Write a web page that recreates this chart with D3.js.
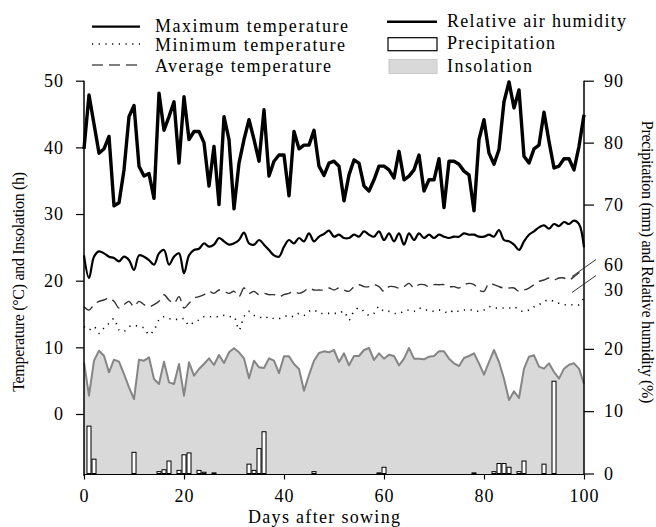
<!DOCTYPE html>
<html lang="en">
<head>
  <meta charset="UTF-8">
  <title>Weather during the crop cycle</title>
  <style>
    body { margin: 0; background: #fff; }
    svg { font-family: "Liberation Serif", "Times New Roman", serif; }
  </style>
  <script src="https://d3js.org/d3.v7.min.js"></script>
</head>
<body>
  <svg width="656" height="527"></svg>

  <script>
    // days after sowing 0..100
    var days = d3.range(0, 101);

    // relative air humidity (%)
    var humidity = [
      79, 87.7, 83, 78.3, 79, 81, 69.8, 70.3, 75.6, 84.2,
      86, 76.2, 74.6, 75, 71, 88, 82, 84.2, 86.6, 76.7,
      87.4, 80.5, 81.8, 81.8, 80, 73, 79.4, 70, 84.2, 80.5,
      69.3, 76.7, 80.5, 83.7, 80.5, 77, 85.3, 74.6, 77, 78,
      78, 71.4, 81.8, 79, 79.6, 79.6, 82, 76.2, 74.7, 76.7,
      77, 76.2, 70.6, 74.8, 77.2, 76.7, 73, 72.2, 74, 76.2,
      76.2, 75.6, 74.3, 78.6, 74, 74.6, 75.6, 78, 72.2, 74,
      74, 77.4, 69.5, 77, 77, 76.5, 75.4, 74.8, 69, 80.5,
      83.7, 78.3, 76.5, 78.9, 86.6, 89.8, 85.6, 88.5, 77.8, 76.7,
      79, 79.6, 84.9, 80.2, 75.9, 76.2, 77.4, 77.4, 75.6, 79.4, 84.5
    ];

    // maximum temperature (C)
    var tMax = [
      23.8, 20.4, 23.6, 24.4, 24.1, 23.6, 23.4, 22.9, 23.6, 23.1,
      21.6, 23.8, 23.6, 23.1, 22.4, 24.1, 24.6, 22.4, 23.6, 24.1,
      21.1, 23.8, 24.6, 24.8, 25.6, 25.1, 25.4, 26.4, 25.9, 25.4,
      25.6, 26.1, 27.2, 25.6, 25.4, 26.1, 25.4, 24.6, 23.8, 23.6,
      25.1, 26.1, 25.6, 26.4, 25.9, 27.1, 25.9, 26.6, 27, 27.5,
      26.6, 26.9, 26.4, 26.4, 26.9, 26.6, 27.4, 26.9, 26.6, 27.4,
      26.1, 27.1, 25.9, 27.1, 25.4, 27.1, 26.1, 27.1, 26.4, 26.9,
      26.4, 26.9, 26.6, 26.4, 26.6, 26.6, 27.1, 26.9, 26.9, 26.6,
      26.6, 26.9, 26.6, 27.6, 26.1, 25.9, 25.4, 24.6, 25.9, 26.9,
      27.4, 28, 28.3, 27.8, 28.5, 28.2, 28.8, 28.5, 29, 28.5, 25
    ];

    // minimum temperature (C)
    var tMin = [
      13.1, 12.6, 13.1, 12.1, 12.9, 13.6, 14.3, 12.6, 12.4, 13.1,
      13.3, 13.1, 12.9, 11.9, 12.6, 14.1, 14.6, 14.3, 14.3, 14.1,
      14.3, 13.3, 13.8, 14.1, 14.6, 14.6, 14.6, 14.6, 14.8, 14.6,
      14.6, 12.6, 14.6, 15.4, 14.8, 14.6, 14.3, 14.6, 14.3, 14.3,
      14.6, 14.8, 14.6, 15.1, 14.8, 15.4, 15.6, 15.1, 15.1, 15.1,
      15.1, 15.1, 15.4, 14.1, 15.4, 15.9, 15.4, 14.8, 15.1, 16.1,
      15.4, 15.4, 15.1, 15.1, 15.4, 15.6, 15.4, 15.9, 15.6, 15.6,
      15.4, 15.6, 15.4, 15.1, 15.6, 15.4, 15.6, 15.6, 15.6, 15.4,
      15.6, 16.1, 15.9, 15.9, 15.9, 15.9, 16.1, 15.6, 15.4, 15.6,
      16.1, 16.4, 16.9, 17.1, 16.9, 16.6, 16.4, 16.4, 16.4, 16.4, 17.5
    ];

    // average temperature (C)
    var tAvg = [
      16.1, 15.6, 16.4, 16.9, 17.1, 17.4, 16.9, 15.9, 16.4, 16.9,
      16.1, 16.9, 16.4, 16.1, 16.4, 16.9, 17.9, 17.1, 16.6, 17.6,
      15.9, 16.6, 17.4, 17.6, 17.9, 18.4, 18.1, 18.6, 18.4, 18.1,
      18.4, 17.6, 18.9, 18.1, 18.4, 17.9, 18.1, 17.9, 17.9, 17.6,
      17.9, 18.1, 18.4, 18.1, 18.4, 18.9, 18.6, 18.6, 18.6, 18.9,
      18.6, 18.9, 18.6, 18.4, 19.1, 19.4, 19.1, 19.1, 19.4, 19.1,
      18.4, 19.1, 19.1, 18.9, 19.1, 19.6, 18.9, 19.4, 19.4, 19.1,
      19.4, 19.4, 19.4, 19.1, 19.1, 18.9, 19.4, 19.6, 19.4, 18.6,
      18.4, 19.6, 19.4, 19.1, 18.9, 18.9, 18.9, 18.4, 18.6, 18.9,
      19.4, 19.9, 20.1, 20.4, 20.1, 20.4, 20.4, 20.1, 20.6, 21.2, 21.8
    ];

    // insolation (h)
    var insolation = [
      7.75, 2.75, 8, 9.5, 8.75, 6.25, 8.15, 7.85, 6, 4,
      2.25, 8.15, 8, 8.5, 5.25, 4.5, 7.85, 4.75, 4.5, 7.5,
      2.75, 7.75, 5.75, 6.75, 7.5, 8.35, 7.35, 8.85, 7.65, 9.25,
      9.85, 9.25, 8.35, 5.35, 8, 7, 6.9, 8.35, 8, 6.15,
      8.65, 8.65, 7.5, 6.75, 3.5, 5.85, 8, 9.15, 9.4, 9.25,
      9.6, 7.8, 9.1, 7.3, 8.7, 8.7, 9.6, 9.9, 8.1, 9.1,
      8.3, 8.9, 8.7, 7.3, 8.3, 9.9, 8.3, 8.3, 8.2, 8.6,
      8.7, 9.4, 9.4, 8.3, 7.6, 7.2, 8.4, 8.7, 9.1, 7.6,
      5.9, 7.8, 9.6, 7.8, 5.3, 2.1, 3.4, 2.4, 6.8, 8.6,
      8.8, 7.1, 6.8, 7.6, 6.3, 5.3, 6.8, 7.4, 7.6, 6.8, 4.5
    ];

    // precipitation (mm), only days with rain
    var rainDays = [1, 2, 10, 15, 16, 17, 19, 20, 21, 23, 24, 26, 33, 34, 35, 36, 46, 59, 60, 78, 82, 83, 84, 85, 87, 88, 92, 94];
    var rainMm   = [7.6, 2.3, 3.4, 0.3, 0.6, 2.0, 0.5, 3.0, 3.3, 0.5, 0.2, 0.1, 1.5, 0.5, 4.0, 6.7, 0.3, 0.1, 1.0, 0.1, 0.3, 1.6, 1.6, 1.0, 0.3, 2.0, 1.5, 14.8];

    var xTicks = [0, 20, 40, 60, 80, 100];
    var leftTicks = [0, 10, 20, 30, 40, 50];
    var humTicks = [60, 70, 80, 90];
    var rainTicks = [0, 10, 20, 30];

    var svg = d3.select("svg");
    var plotL = 84, plotR = 584, plotT = 80.7, plotB = 474.5;

    var x = d3.scaleLinear().domain([0, 100]).range([plotL, plotR]);
    var yT = d3.scaleLinear().domain([0, 50]).range([414, plotT]);      // temperature / insolation
    var yH = d3.scaleLinear().domain([60, 90]).range([266.5, plotT]);   // humidity
    var yP = d3.scaleLinear().domain([0, 30]).range([473.5, 286.5]);    // precipitation

    // insolation area
    svg.append("path")
      .datum(days)
      .attr("fill", "#d9d9d9")
      .attr("d", d3.area().x(d => x(d)).y0(plotB).y1(d => yT(insolation[d])));
    svg.append("path")
      .datum(days)
      .attr("fill", "none").attr("stroke", "#858585").attr("stroke-width", 2)
      .attr("stroke-linejoin", "round")
      .attr("d", d3.line().x(d => x(d)).y(d => yT(insolation[d])));

    // precipitation bars
    svg.selectAll(".rain")
      .data(rainDays)
      .enter().append("rect")
      .attr("class", "rain")
      .attr("x", d => x(d) - 2)
      .attr("width", 4)
      .attr("y", (d, i) => yP(rainMm[i]))
      .attr("height", (d, i) => yP(0) - yP(rainMm[i]))
      .attr("fill", "#fff").attr("stroke", "#000").attr("stroke-width", 1);

    function curve(arr, scale) {
      return d3.line().curve(d3.curveCatmullRom.alpha(0.5)).x(d => x(d)).y(d => scale(arr[d]));
    }

    svg.append("path").datum(days)
      .attr("fill", "none").attr("stroke", "#000").attr("stroke-width", 1.6)
      .attr("stroke-dasharray", "1.2,5.5")
      .attr("d", curve(tMin, yT));
    svg.append("path").datum(days)
      .attr("fill", "none").attr("stroke", "#333").attr("stroke-width", 1.4)
      .attr("stroke-dasharray", "11,6")
      .attr("d", curve(tAvg, yT));
    svg.append("path").datum(days)
      .attr("fill", "none").attr("stroke", "#000").attr("stroke-width", 2.2)
      .attr("d", curve(tMax, yT));
    svg.append("path").datum(days)
      .attr("fill", "none").attr("stroke", "#000").attr("stroke-width", 3.4)
      .attr("stroke-linejoin", "round")
      .attr("d", d3.line().x(d => x(d)).y(d => yH(humidity[d])));

    // axes
    function styleAxis(g) {
      g.selectAll("text").attr("font-size", "18px").attr("fill", "#000")
        .attr("font-family", "Liberation Serif, serif").attr("letter-spacing", "1px");
      g.selectAll("line").attr("stroke", "#000").attr("stroke-width", 1.2);
      g.select(".domain").remove();
    }

    svg.append("g").attr("transform", "translate(0," + plotB + ")")
      .call(d3.axisBottom(x).tickValues(xTicks).tickSize(5).tickPadding(10))
      .call(styleAxis);
    svg.append("g").attr("transform", "translate(" + plotL + ",0)")
      .call(d3.axisLeft(yT).tickValues(leftTicks).tickSize(8).tickPadding(12))
      .call(styleAxis);
    var gH = svg.append("g").attr("transform", "translate(" + plotR + ",0)")
      .call(d3.axisRight(yH).tickValues(humTicks).tickSize(10).tickPadding(10))
      .call(styleAxis);
    gH.selectAll(".tick").filter(d => d === 60).select("line").remove();
    gH.selectAll(".tick").filter(d => d === 60).select("text").attr("dy", "0.2em");
    var gP = svg.append("g").attr("transform", "translate(" + plotR + ",0)")
      .call(d3.axisRight(yP).tickValues(rainTicks).tickSize(10).tickPadding(10))
      .call(styleAxis);
    gP.selectAll(".tick").filter(d => d === 30).select("line").remove();
    gP.selectAll(".tick").filter(d => d === 30).select("text").attr("dy", "0.5em");

    // axis lines
    svg.append("line").attr("x1", plotL).attr("x2", plotL).attr("y1", plotT).attr("y2", plotB + 1.5)
      .attr("stroke", "#000").attr("stroke-width", 1.5);
    svg.append("line").attr("x1", plotR).attr("x2", plotR).attr("y1", plotT).attr("y2", plotB)
      .attr("stroke", "#000").attr("stroke-width", 1.5);
    svg.append("line").attr("x1", plotL).attr("x2", plotR).attr("y1", plotB).attr("y2", plotB)
      .attr("stroke", "#000").attr("stroke-width", 1.2);

    // break marks on the right axis
    var brk = (yH(60) + yP(30)) / 2;
    [-8, 8].forEach(function(o) {
      svg.append("line")
        .attr("x1", plotR - 12).attr("y1", brk + o + 8)
        .attr("x2", plotR + 12).attr("y2", brk + o - 9)
        .attr("stroke", "#333").attr("stroke-width", 1);
    });

    // axis titles
    svg.append("text").attr("x", 324).attr("y", 523).attr("text-anchor", "middle")
      .attr("font-size", "18px").attr("textLength", 152).attr("lengthAdjust", "spacing")
      .text("Days after sowing");
    svg.append("text").attr("transform", "translate(24,282) rotate(-90)").attr("text-anchor", "middle")
      .attr("font-size", "16px").attr("letter-spacing", "-0.3px")
      .text("Temperature (\u00B0C) and Insolation (h)");
    svg.append("text").attr("transform", "translate(642,262) rotate(90)").attr("text-anchor", "middle")
      .attr("font-size", "16px").attr("letter-spacing", "-0.3px")
      .text("Precipitation (mm) and Relative humidity (%)");

    // legend
    var legL = [
      { name: "Maximum temperature", y: 26.7, base: 32, w: 193, dash: null, color: "#000", sw: 2.2 },
      { name: "Minimum temperature", y: 44, base: 51, w: 190, dash: "1.2,5.5", color: "#000", sw: 1.6 },
      { name: "Average temperature", y: 65, base: 71.5, w: 176, dash: "11,6", color: "#555", sw: 1.6 }
    ];
    legL.forEach(function(d) {
      svg.append("line").attr("x1", 92).attr("x2", 140).attr("y1", d.y).attr("y2", d.y)
        .attr("stroke", d.color).attr("stroke-width", d.sw).attr("stroke-dasharray", d.dash);
      svg.append("text").attr("x", 155).attr("y", d.base).attr("font-size", "18px")
        .attr("textLength", d.w).attr("lengthAdjust", "spacing").text(d.name);
    });

    svg.append("line").attr("x1", 387).attr("x2", 437).attr("y1", 21.7).attr("y2", 21.7)
      .attr("stroke", "#000").attr("stroke-width", 2.4);
    svg.append("rect").attr("x", 388).attr("y", 37.7).attr("width", 49).attr("height", 13)
      .attr("fill", "#fff").attr("stroke", "#000").attr("stroke-width", 1.2);
    svg.append("rect").attr("x", 389).attr("y", 59.5).attr("width", 48).attr("height", 14)
      .attr("fill", "#d9d9d9").attr("stroke", "#c8c8c8").attr("stroke-width", 1);
    [["Relative air humidity", 26.5, 179], ["Precipitation", 48.5, 108], ["Insolation", 71.5, 85]].forEach(function(d) {
      svg.append("text").attr("x", 447).attr("y", d[1]).attr("font-size", "18px")
        .attr("textLength", d[2]).attr("lengthAdjust", "spacing").text(d[0]);
    });
  </script>
</body>
</html>
